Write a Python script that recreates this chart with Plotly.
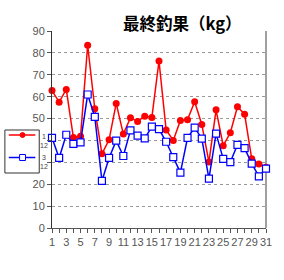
import plotly.graph_objects as go

days = list(range(1, 32))
red_vals = [62.8, 57.5, 63.3, 41.3, 41.9, 83.5, 54.5, 33.9, 40.3, 56.9,
            42.9, 50.4, 48.7, 51.1, 50.5, 76.3, 44.8, 40.0, 49.1, 49.5,
            57.7, 47.3, 30.1, 54.0, 37.6, 43.5, 55.4, 52.0, 31.6, 29.2, 27.7]
blue_vals = [41.2, 32.0, 42.6, 38.4, 39.1, 61.0, 50.8, 21.5, 32.0, 39.9,
             32.9, 44.6, 42.2, 40.9, 46.3, 45.2, 39.4, 32.4, 25.3, 41.2,
             45.9, 40.8, 22.6, 43.1, 31.6, 30.1, 38.0, 36.5, 29.4, 23.6, 27.1]
y_ticks = [0, 10, 20, 30, 40, 50, 60, 70, 80, 90]
y_labels = ["0", "10", "20", "", "", "50", "60", "70", "80", "90"]
x_labels = [str(d) if d % 2 == 1 else "" for d in days]
title_text = "最終釣果（kg）"

W, H = 284, 280
ml, mr, mt, mb = 52, 14, 31, 52
pw, ph = W - ml - mr, H - mt - mb

def px(x):
    return (x - ml) / pw

def py(y):
    return (H - mb - y) / ph

fig = go.Figure()
fig.add_trace(go.Scatter(x=days, y=red_vals, mode="lines+markers",
                         line=dict(color="#FF0000", width=1.5),
                         marker=dict(symbol="circle", size=7, color="#FF0000"),
                         showlegend=False, cliponaxis=False))
fig.add_trace(go.Scatter(x=days, y=blue_vals, mode="lines+markers",
                         line=dict(color="#0000FF", width=1.5),
                         marker=dict(symbol="square", size=7, color="white",
                                     line=dict(color="#0000FF", width=1.2)),
                         showlegend=False, cliponaxis=False))

shapes = []
# plot border (right side darker)
shapes.append(dict(type="line", xref="paper", yref="paper", x0=1, x1=1, y0=0, y1=1,
                   line=dict(color="#808080", width=1.5), layer="below"))
# manual legend box
shapes.append(dict(type="rect", xref="paper", yref="paper",
                   x0=px(4), x1=px(39), y0=py(173), y1=py(130),
                   line=dict(color="#333333", width=1), fillcolor="white", layer="above"))
shapes.append(dict(type="line", xref="paper", yref="paper",
                   x0=px(8), x1=px(35), y0=py(135), y1=py(135),
                   line=dict(color="#FF0000", width=1.5), layer="above"))
shapes.append(dict(type="circle", xref="paper", yref="paper",
                   x0=px(19.5), x1=px(24.5), y0=py(137.5), y1=py(132.5),
                   line=dict(color="#FF0000", width=1), fillcolor="#FF0000", layer="above"))
shapes.append(dict(type="line", xref="paper", yref="paper",
                   x0=px(8), x1=px(35), y0=py(157.5), y1=py(157.5),
                   line=dict(color="#0000FF", width=1.5), layer="above"))
shapes.append(dict(type="rect", xref="paper", yref="paper",
                   x0=px(19), x1=px(25), y0=py(160.5), y1=py(154.5),
                   line=dict(color="#0000FF", width=1), fillcolor="white", layer="above"))

annotations = [
    dict(text="<b>" + title_text + "</b>", xref="paper", yref="paper",
         x=px(185), y=py(23), xanchor="center", yanchor="middle", showarrow=False,
         font=dict(size=16.5, color="#000000", family="Noto Sans CJK JP")),
    dict(text="1<br>12", xref="paper", yref="paper", x=px(38), y=py(141),
         xanchor="left", yanchor="middle", showarrow=False,
         font=dict(size=7, color="#444444", family="Liberation Sans")),
    dict(text="3<br>12", xref="paper", yref="paper", x=px(38), y=py(162),
         xanchor="left", yanchor="middle", showarrow=False,
         font=dict(size=7, color="#444444", family="Liberation Sans")),
]

fig.update_layout(
    width=W, height=H,
    margin=dict(l=ml, r=mr, t=mt, b=mb),
    paper_bgcolor="white", plot_bgcolor="white",
    font=dict(family="Liberation Sans", size=11, color="#555555"),
    shapes=shapes, annotations=annotations,
    xaxis=dict(range=[1, 31], tickvals=days, ticktext=x_labels, ticks="outside",
               ticklen=4, tickcolor="#555555", showgrid=False, zeroline=False,
               showline=True, linecolor="#555555", linewidth=1,
               tickfont=dict(size=11, color="#555555")),
    yaxis=dict(range=[0, 90], tickvals=y_ticks, ticktext=y_labels, ticks="outside",
               ticklen=4, tickcolor="#555555", showgrid=True, gridcolor="#999999",
               griddash="dot", gridwidth=1, zeroline=False, showline=True,
               linecolor="#333333", linewidth=1,
               tickfont=dict(size=11, color="#555555")),
)

fig.write_html("out.html")
